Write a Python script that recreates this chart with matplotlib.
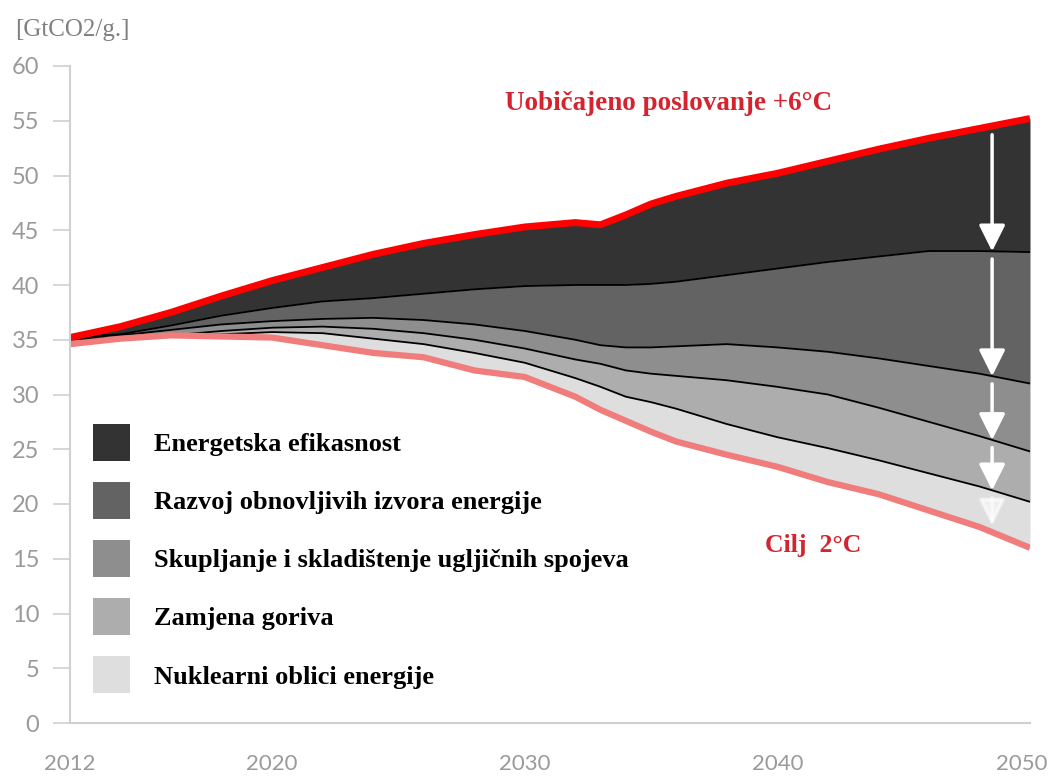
import matplotlib.pyplot as plt
import matplotlib.transforms as mtransforms
import numpy as np

# years of the scenario
years = [2012, 2014, 2016, 2018, 2020, 2022, 2024, 2026, 2028, 2030,
         2032, 2033, 2034, 2035, 2036, 2038, 2040, 2042, 2044, 2046, 2048, 2050]

# emissions [GtCO2/yr] - top line = business as usual (+6C)
bau = [35.2, 36.2, 37.5, 39.0, 40.4, 41.6, 42.8, 43.8, 44.6, 45.3,
       45.7, 45.5, 46.4, 47.4, 48.1, 49.3, 50.2, 51.3, 52.4, 53.4, 54.3, 55.2]
# boundaries between the wedges (top to bottom)
line_eff = [35.2, 35.5, 36.3, 37.2, 37.9, 38.5, 38.8, 39.2, 39.6, 39.9,
            40.0, 40.0, 40.0, 40.1, 40.3, 40.9, 41.5, 42.1, 42.6, 43.1, 43.1, 43.0]
line_ren = [35.2, 35.4, 35.9, 36.4, 36.7, 36.9, 37.0, 36.8, 36.4, 35.8,
            35.0, 34.5, 34.3, 34.3, 34.4, 34.6, 34.3, 33.9, 33.3, 32.6, 31.9, 31.0]
line_ccs = [35.1, 35.2, 35.4, 35.8, 36.1, 36.2, 36.0, 35.6, 35.0, 34.2,
            33.2, 32.8, 32.2, 31.9, 31.7, 31.3, 30.7, 30.0, 28.8, 27.5, 26.2, 24.8]
line_fuel = [35.0, 35.1, 35.3, 35.5, 35.7, 35.6, 35.1, 34.6, 33.8, 32.9,
             31.5, 30.7, 29.8, 29.3, 28.7, 27.3, 26.1, 25.1, 24.0, 22.8, 21.6, 20.2]
# bottom line = 2C target
target = [34.6, 35.1, 35.4, 35.3, 35.2, 34.5, 33.8, 33.4, 32.2, 31.6,
          29.8, 28.6, 27.6, 26.6, 25.7, 24.5, 23.4, 22.0, 20.9, 19.4, 17.9, 16.0]

labels = ['Energetska efikasnost',
          'Razvoj obnovljivih izvora energije',
          'Skupljanje i skladištenje ugljičnih spojeva',
          'Zamjena goriva',
          'Nuklearni oblici energije']
colors = ['#333333', '#636363', '#8e8e8e', '#adadad', '#dedede']

serif = 'Liberation Serif'

fig = plt.figure(figsize=(10.55, 7.76), dpi=100)
ax = fig.add_axes([70 / 1055, 53 / 776, 960 / 1055, 657 / 776])

# stacked wedges
uppers = [bau, line_eff, line_ren, line_ccs, line_fuel]
lowers = [line_eff, line_ren, line_ccs, line_fuel, target]
handles = []
for up, lo, c, lab in zip(uppers, lowers, colors, labels):
    h = ax.fill_between(years, lo, up, color=c, lw=0, label=lab)
    handles.append(h)

for ln in [line_eff, line_ren, line_ccs, line_fuel]:
    ax.plot(years, ln, color='black', lw=1.3)

ax.plot(years, target, color='#f07c7c', lw=4.5, solid_capstyle='butt')
ax.plot(years, bau, color='#ff0000', lw=5, solid_capstyle='butt')

# white arrows showing the reductions
xa = 2048.5
arrow_pairs = [
    (np.interp(xa, years, bau) - 0.8, np.interp(xa, years, line_eff)),
    (np.interp(xa, years, line_eff) - 0.7, np.interp(xa, years, line_ren)),
    (np.interp(xa, years, line_ren) - 0.7, np.interp(xa, years, line_ccs)),
    (np.interp(xa, years, line_ccs) - 0.7, np.interp(xa, years, line_fuel)),
    (np.interp(xa, years, line_fuel) - 0.7, np.interp(xa, years, target) + 0.6),
]
for i, (y0, y1) in enumerate(arrow_pairs):
    ax.annotate('', xy=(xa, y1), xytext=(xa, y0),
                arrowprops=dict(arrowstyle='-|>,head_length=1.0,head_width=0.5',
                                color='white', lw=2.5, mutation_scale=16,
                                shrinkA=0, shrinkB=0, alpha=0.6 if i == 4 else 1))

ax.text(2029.2, 56.6, 'Uobičajeno poslovanje +6°C', color='#d42430',
        fontsize=19.5, fontweight='bold', family=serif, va='center', ha='left')
ax.text(2039.5, 16.2, 'Cilj  2°C', color='#d42430',
        fontsize=18.5, fontweight='bold', family=serif, va='center', ha='left')

ax.set_xlim(2012, 2050)
ax.set_ylim(0, 60)
ax.set_xticks([2012, 2020, 2030, 2040, 2050])
ax.set_yticks(np.arange(0, 61, 5))
for s in ['top', 'right']:
    ax.spines[s].set_visible(False)
for s in ['left', 'bottom']:
    ax.spines[s].set_color('#d0d0d0')
    ax.spines[s].set_linewidth(1.5)
ax.tick_params(axis='y', length=12, width=1.2, color='#d0d0d0', pad=10,
               labelsize=17, labelcolor='#9a9a9a')
ax.tick_params(axis='x', length=0, pad=22, labelsize=16, labelcolor='#9a9a9a')
for t in ax.get_xticklabels() + ax.get_yticklabels():
    t.set_family('Lato')
# keep the last year label inside the figure
last = ax.get_xticklabels()[-1]
last.set_transform(last.get_transform() +
                   mtransforms.ScaledTranslation(-6 / 72, 0, fig.dpi_scale_trans))

fig.text(15 / 1055, 1 - 30 / 776, '[GtCO2/g.]', color='#808080',
         fontsize=18, family=serif, va='center', ha='left')

leg = ax.legend(handles=handles, loc='upper left', bbox_to_anchor=(0.024, 0.455),
                frameon=False, borderpad=0, borderaxespad=0,
                handlelength=1.4, handleheight=1.78, handletextpad=0.9,
                labelspacing=0.8,
                prop={'family': serif, 'weight': 'bold', 'size': 19})

fig.savefig('out.png', dpi=100)
